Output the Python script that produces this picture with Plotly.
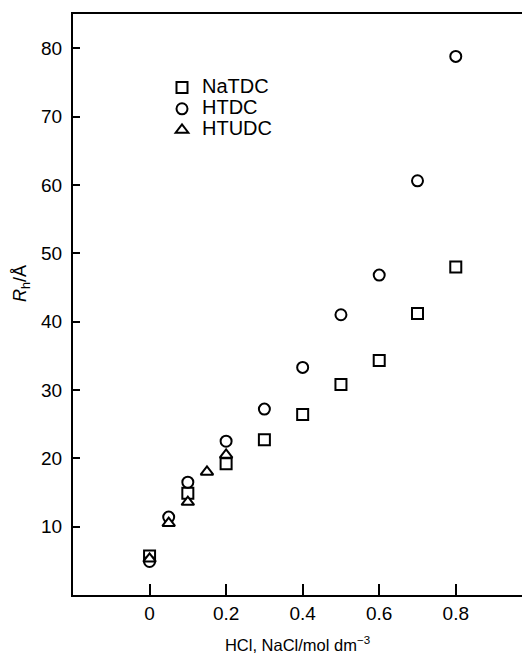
import plotly.graph_objects as go

# NaTDC (squares)
natdc_x = [0, 0.1, 0.2, 0.3, 0.4, 0.5, 0.6, 0.7, 0.8]
natdc_y = [5.7, 14.9, 19.2, 22.7, 26.4, 30.8, 34.3, 41.2, 48.0]
# HTDC (circles)
htdc_x = [0, 0.05, 0.1, 0.2, 0.3, 0.4, 0.5, 0.6, 0.7, 0.8]
htdc_y = [4.9, 11.4, 16.5, 22.5, 27.2, 33.3, 41.0, 46.8, 60.6, 78.8]
# HTUDC (triangles)
htudc_x = [0, 0.05, 0.1, 0.15, 0.2]
htudc_y = [5.3, 10.5, 13.6, 18.0, 20.5]

series_names = ["NaTDC", "HTDC", "HTUDC"]
x_ticks = [0, 0.2, 0.4, 0.6, 0.8]
x_ticklabels = ["0", "0.2", "0.4", "0.6", "0.8"]
y_ticks = [10, 20, 30, 40, 50, 60, 70, 80]

FONT = "Liberation Sans, Arial, sans-serif"

L, R, T, B = 73, 0, 14, 60
W, H = 522, 655
pw, ph = W - L - R, H - T - B

fig = go.Figure()
mk = dict(size=11, color="white", line=dict(color="black", width=2))
def lg(name):
    return '<span style="font-size:20px">' + name + '</span>'
fig.add_trace(go.Scatter(x=natdc_x, y=natdc_y, mode="markers", name=lg(series_names[0]),
                         marker=dict(symbol="square", **mk)))
fig.add_trace(go.Scatter(x=htdc_x, y=htdc_y, mode="markers", name=lg(series_names[1]),
                         marker=dict(symbol="circle", **mk)))
fig.add_trace(go.Scatter(x=htudc_x, y=htudc_y, mode="markers", name=lg(series_names[2]),
                         marker=dict(symbol="triangle-up", **mk)))

fig.update_layout(
    width=W, height=H,
    margin=dict(l=L, r=R, t=T, b=B),
    paper_bgcolor="white", plot_bgcolor="white",
    font=dict(family=FONT, size=19, color="black"),
    showlegend=True,
    legend=dict(x=(162 - L) / pw, y=1 - (72 - T) / ph, xanchor="left", yanchor="top",
                bgcolor="rgba(0,0,0,0)", font=dict(size=14),
                tracegroupgap=0),
    xaxis=dict(range=[-0.2, 0.973], tickvals=x_ticks, ticktext=x_ticklabels,
               showgrid=False, zeroline=False, showline=True, linecolor="black",
               linewidth=2, mirror=True, ticks="inside", ticklen=11, tickwidth=2,
               tickcolor="black", ticklabelstandoff=0, automargin=False,
               title=dict(text="HCl, NaCl/mol dm<sup>−3</sup>", standoff=17,
                          font=dict(size=16.5))),
    yaxis=dict(range=[0, 85], tickvals=y_ticks,
               showgrid=False, zeroline=False, showline=True, linecolor="black",
               linewidth=2, mirror=False, ticks="inside", ticklen=7, tickwidth=2,
               tickcolor="black", ticklabelstandoff=5, automargin=False),
    annotations=[dict(text="<i>R</i><sub>h</sub>/Å", xref="paper", yref="paper",
                      x=(21 - L) / pw, y=(H - B - 284) / ph, textangle=-90,
                      showarrow=False, xanchor="center", yanchor="middle",
                      font=dict(size=18))],
)

fig.write_html("out.html", config={"displayModeBar": False},
               post_script="document.body.style.margin='0';document.body.style.overflow='hidden';")
